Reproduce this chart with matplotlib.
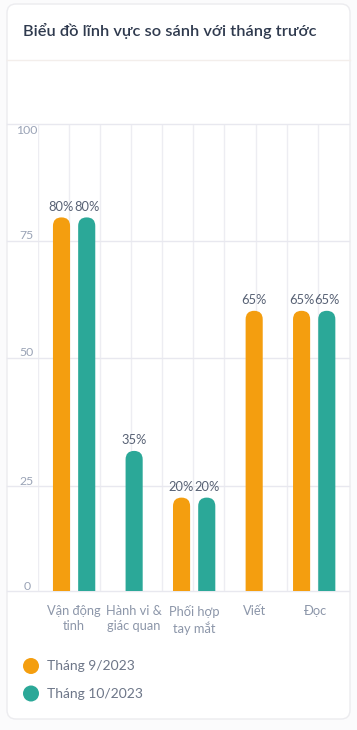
import numpy as np
import matplotlib
matplotlib.use("Agg")
import matplotlib.pyplot as plt
from matplotlib.patches import FancyBboxPatch, Ellipse

plt.rcParams['font.family'] = ['Lato', 'DejaVu Sans']

TITLE = "Biểu đồ lĩnh vực so sánh với tháng trước"
categories = ["Vận động\ntinh", "Hành vi &\ngiác quan", "Phối hợp\ntay mắt", "Viết", "Đọc"]
series_names = ["Tháng 9/2023", "Tháng 10/2023"]
# bar heights as drawn (None = no bar)
sep_values = [80, None, 20, 60, 60]
oct_values = [80, 30, 20, None, 60]
# value labels as printed above the bars
sep_labels = ["80%", None, "20%", "65%", "65%"]
oct_labels = ["80%", "35%", "20%", None, "65%"]
ytick_pos = [0, 22.5, 50, 75, 100]
ytick_labels = ["0", "25", "50", "75", "100"]

colors = ["#f49e0f", "#2ba898"]
W, H = 357, 730
XL = (-0.61, 4.58)

fig = plt.figure(figsize=(W / 100, H / 100), dpi=100)
fig.patch.set_facecolor("#fbfbfc")


def fx(px):
    return px / W


def fy(py):
    return 1 - py / H


# card
card = FancyBboxPatch((fx(7), fy(719)), fx(343), (719 - 4) / H,
                      boxstyle="round,pad=0,rounding_size=0.025",
                      transform=fig.transFigure, facecolor="white",
                      edgecolor="#ececef", linewidth=1, mutation_aspect=W / H,
                      zorder=-5)
fig.patches.append(card)
fig.text(fx(23), fy(31), TITLE, fontsize=11.8, fontweight="semibold",
         color="#2f3a4e", va="center", ha="left")
fig.add_artist(plt.Line2D([fx(7), fx(350)], [fy(60), fy(60)],
                          transform=fig.transFigure, color="#f3eeeb", lw=1))

ax = fig.add_axes([fx(37.5), fy(591), fx(349 - 37.5), (591 - 124) / H])
ax.set_facecolor("none")
ax.set_xlim(*XL)
ax.set_ylim(0, 100)
for s in ax.spines.values():
    s.set_visible(False)
ax.set_xticks([])
ax.set_yticks([])

# vertical grid
for k in range(10):
    ax.plot([k / 10, k / 10], [0, 1], transform=ax.transAxes,
            color="#ededf2", lw=1, zorder=0)
# horizontal grid, extending to the card edges
gx0 = (7 - 37.5) / (349 - 37.5)
for yv, lab in zip(ytick_pos, ytick_labels):
    ax.plot([gx0, 1], [yv, yv], transform=ax.get_yaxis_transform(),
            color="#e8e8ef", lw=1, clip_on=False, zorder=0)
    dy = -4.5 if yv == 100 else 3.5
    ax.annotate(lab, (-0.034, yv), xycoords=ax.get_yaxis_transform(),
                xytext=(0, dy), textcoords="offset points", ha="center",
                va="center", fontsize=8.8, color="#9aa3b6")

# grouped bars, lone bar centred when the other is missing
offset = 0.21
bw = 0.285
xs = np.arange(len(categories))
fig.canvas.draw()
bbox = ax.get_window_extent()
asp = (bbox.width / (XL[1] - XL[0])) / (bbox.height / 100)

for si, (vals, labs) in enumerate([(sep_values, sep_labels), (oct_values, oct_labels)]):
    for i, (v, lab) in enumerate(zip(vals, labs)):
        if v is None:
            continue
        other = oct_values[i] if si == 0 else sep_values[i]
        pos = xs[i] if other is None else xs[i] + (offset if si else -offset)
        bars = ax.bar(pos, v, width=bw, color=colors[si])
        for r in bars:
            r.set_visible(False)
            p = FancyBboxPatch((r.get_x(), -10), r.get_width(), r.get_height() + 10,
                               boxstyle=f"round,pad=0,rounding_size={bw / 2}",
                               mutation_aspect=asp, facecolor=colors[si],
                               edgecolor="none", zorder=3)
            ax.add_patch(p)
        if lab:
            ax.annotate(lab, (pos, v), xytext=(0, 3.5), textcoords="offset points",
                        ha="center", va="bottom", fontsize=9.3, color="#576174")

for i, c in enumerate(categories):
    ax.annotate(c, (xs[i], 0), xytext=(0, -10), textcoords="offset points",
                ha="center", va="top", fontsize=9.3, color="#8c96a9",
                linespacing=1.3)

# legend
for j, name in enumerate(series_names):
    yy = 666 + j * 27.5
    fig.patches.append(Ellipse((fx(31), fy(yy)), 16 / W, 16 / H,
                               transform=fig.transFigure,
                               facecolor=colors[j], edgecolor="none"))
    fig.text(fx(47), fy(yy), name, fontsize=10, color="#6d7688",
             va="center", ha="left")

fig.savefig("out.png", dpi=100, facecolor=fig.get_facecolor())
